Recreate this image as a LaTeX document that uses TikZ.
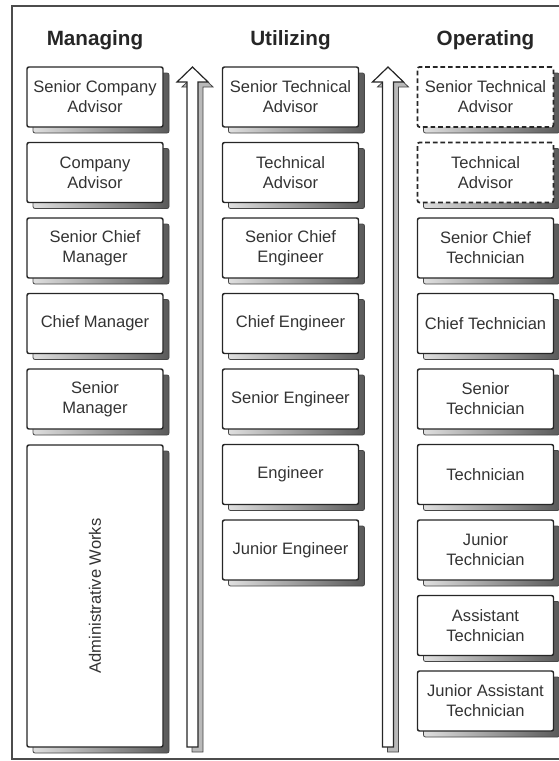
\documentclass[tikz,border=0pt]{standalone}
\usepackage{fontspec}
\setmainfont{Liberation Sans}
\usetikzlibrary{shadows}
\begin{document}
\begin{tikzpicture}[x=0.75pt,y=-0.75pt,
  rankbox/.style={draw=black!85, line width=1.1pt, fill=white, rounded corners=1.5pt,
    minimum width=102pt, minimum height=45pt, inner sep=1pt, align=center,
    text=black!80, font=\fontsize{12.4}{15}\selectfont,
    general shadow={shadow xshift=4.5pt, shadow yshift=-4.5pt, left color=gray!25,
      right color=gray!70!black, draw=gray!55!black, line width=0.6pt, solid}},
  dashbox/.style={rankbox, line width=1.3pt, dash pattern=on 3.5pt off 2.2pt},
  heading/.style={font=\bfseries\fontsize{15.5}{18}\selectfont, text=black!85, anchor=base},
  arrowfront/.style={draw=black!85, line width=0.9pt, fill=white, line join=miter},
  arrowshadow/.style={draw=gray!55!black, line width=0.6pt, fill=gray!55}]
\useasboundingbox (0,0) rectangle (559,761);
% frame
\draw[draw=black!70, line width=1.1pt] (575,6) -- (12,6) -- (12,759) -- (575,759);
% headings
\node[heading] (hM) at (95,45) {Managing};
\node[heading] (hU) at (290.5,45) {Utilizing};
\node[heading] (hO) at (485.5,45) {Operating};
% arrows
\foreach \c/\n in {192.5/a1, 388/a2}{
  \draw[arrowshadow, xshift=3.75pt, yshift=-3.75pt]
    (\c-5.5,747) -- (\c-5.5,82) -- (\c-15.5,82) -- (\c,67) -- (\c+15.5,82) -- (\c+5.5,82) -- (\c+5.5,747) -- cycle;
  \draw[arrowfront]
    (\c-5.5,747) -- (\c-5.5,82) -- (\c-15.5,82) -- (\c,67) -- (\c+15.5,82) -- (\c+5.5,82) -- (\c+5.5,747) -- cycle;
}
% Managing column
\node[rankbox] (m1) at (95,97) {Senior Company\\Advisor};
\node[rankbox] (m2) at (95,172.5) {Company\\Advisor};
\node[rankbox] (m3) at (95,248) {Senior Chief\\Manager};
\node[rankbox] (m4) at (95,323.5) {Chief Manager};
\node[rankbox] (m5) at (95,399) {Senior\\Manager};
\node[rankbox, minimum height=226.5pt] (m6) at (95,596) {};
\node[rotate=90, text=black!80, font=\fontsize{12.4}{15}\selectfont] (m6t) at (m6.center) {Administrative Works};
% Utilizing column
\node[rankbox] (u1) at (290.5,97) {Senior Technical\\Advisor};
\node[rankbox] (u2) at (290.5,172.5) {Technical\\Advisor};
\node[rankbox] (u3) at (290.5,248) {Senior Chief\\Engineer};
\node[rankbox] (u4) at (290.5,323.5) {Chief Engineer};
\node[rankbox] (u5) at (290.5,399) {Senior Engineer};
\node[rankbox] (u6) at (290.5,474.5) {Engineer};
\node[rankbox] (u7) at (290.5,550) {Junior Engineer};
% Operating column
\node[dashbox] (o1) at (485.5,97) {Senior Technical\\Advisor};
\node[dashbox] (o2) at (485.5,172.5) {Technical\\Advisor};
\node[rankbox] (o3) at (485.5,248) {Senior Chief\\Technician};
\node[rankbox] (o4) at (485.5,323.5) {Chief Technician};
\node[rankbox] (o5) at (485.5,399) {Senior\\Technician};
\node[rankbox] (o6) at (485.5,474.5) {Technician};
\node[rankbox] (o7) at (485.5,550) {Junior\\Technician};
\node[rankbox] (o8) at (485.5,625.5) {Assistant\\Technician};
\node[rankbox] (o9) at (485.5,701) {Junior Assistant\\Technician};
\end{tikzpicture}
\end{document}
